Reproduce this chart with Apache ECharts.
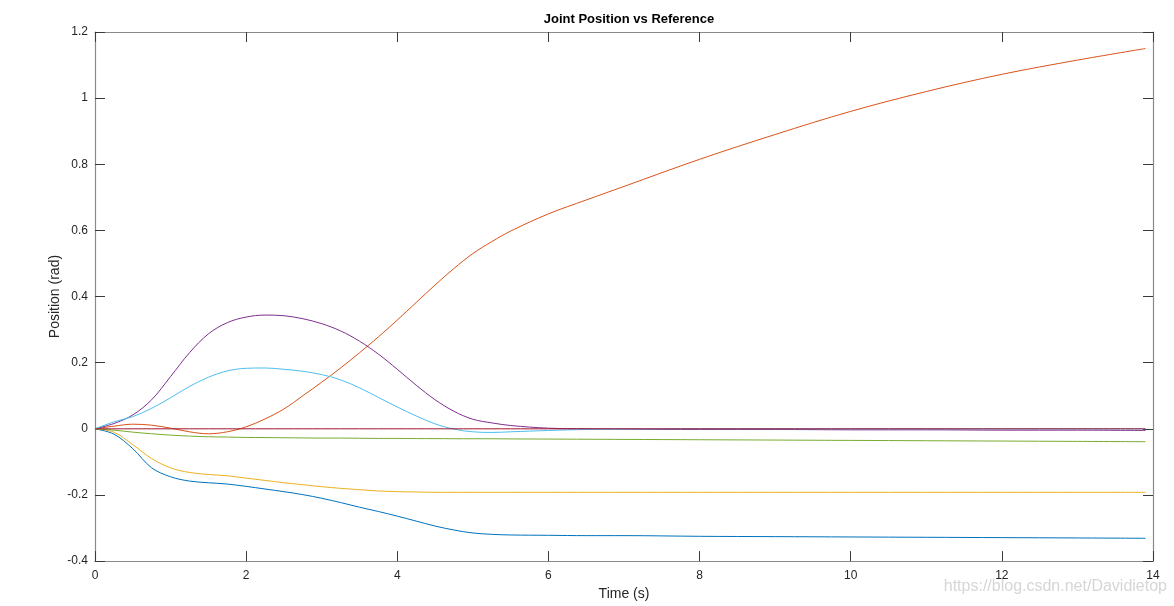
<!DOCTYPE html>
<html>
<head>
<meta charset="utf-8">
<script src="https://cdn.jsdelivr.net/npm/echarts@6/dist/echarts.min.js"></script>
<style>
html,body{margin:0;padding:0;background:#fff;}
#chart{width:1174px;height:606px;}
</style>
</head>
<body>
<div id="chart"></div>
<script>
// ---- data ----
const time = [0, 0.25, 0.5, 0.75, 1, 1.25, 1.5, 1.75, 2, 2.25, 2.5, 2.75, 3, 3.25, 3.5, 3.75, 4, 4.25, 4.5, 4.75, 5, 5.25, 5.5, 6, 6.5, 7, 8, 9, 10, 11, 12, 13, 13.9];

const joint1 = [0, -0.016, -0.06, -0.118, -0.145, -0.158, -0.163, -0.167, -0.174, -0.182, -0.19, -0.199, -0.21, -0.223, -0.237, -0.25, -0.264, -0.279, -0.294, -0.306, -0.315, -0.319, -0.321, -0.322, -0.323, -0.323, -0.325, -0.326, -0.327, -0.328, -0.329, -0.33, -0.331];
const joint2 = [0, 0.008, 0.014, 0.011, 0.002, -0.009, -0.015, -0.009, 0.006, 0.03, 0.06, 0.1, 0.141, 0.184, 0.23, 0.278, 0.329, 0.382, 0.435, 0.485, 0.53, 0.566, 0.598, 0.65, 0.692, 0.733, 0.815, 0.89, 0.96, 1.02, 1.072, 1.115, 1.15];
const joint3 = [0, -0.01, -0.048, -0.09, -0.118, -0.132, -0.138, -0.142, -0.149, -0.156, -0.163, -0.169, -0.175, -0.18, -0.184, -0.188, -0.19, -0.191, -0.192, -0.192, -0.192, -0.192, -0.192, -0.192, -0.192, -0.192, -0.192, -0.192, -0.192, -0.192, -0.192, -0.192, -0.192];
const joint4 = [0, 0.016, 0.042, 0.088, 0.158, 0.23, 0.287, 0.321, 0.338, 0.344, 0.342, 0.333, 0.318, 0.296, 0.265, 0.226, 0.18, 0.132, 0.088, 0.053, 0.029, 0.018, 0.01, 0.002, 0, -0.001, -0.002, -0.002, -0.003, -0.003, -0.004, -0.004, -0.005];
const joint5 = [0, -0.004, -0.01, -0.015, -0.019, -0.022, -0.024, -0.025, -0.026, -0.0265, -0.027, -0.0275, -0.028, -0.028, -0.0285, -0.029, -0.029, -0.0295, -0.0295, -0.03, -0.03, -0.03, -0.0305, -0.031, -0.0315, -0.032, -0.033, -0.034, -0.035, -0.036, -0.037, -0.038, -0.039];
const joint6 = [0, 0.021, 0.037, 0.062, 0.094, 0.128, 0.156, 0.175, 0.183, 0.184, 0.18, 0.174, 0.164, 0.148, 0.124, 0.095, 0.066, 0.039, 0.015, -0.001, -0.009, -0.011, -0.009, -0.005, -0.002, -0.001, 0, 0, 0, 0, 0, 0, 0];
const joint7 = [0, 0, 0, 0, 0, 0, 0, 0, 0, 0, 0, 0, 0, 0, 0, 0, 0, 0, 0, 0, 0, 0, 0, 0, 0, 0, 0, 0, 0, 0, 0, 0, 0];

const seriesValues = [joint1, joint2, joint3, joint4, joint5, joint6, joint7];
const seriesColors = ['#0072BD', '#D95319', '#EDB120', '#7E2F8E', '#77AC30', '#4DBEEE', '#A2142F'];

const xTicks = {min: 0, max: 14, interval: 2};
const yTicks = {min: -0.4, max: 1.2, interval: 0.2};

// ---- chart ----
const FONT = '"Liberation Sans", Arial, Helvetica, sans-serif';
const chart = echarts.init(document.getElementById('chart'), null, {renderer: 'canvas'});

const boxLine = {show: true, onZero: false, lineStyle: {color: '#8a8a8a', width: 1.2}};
const inTick = {show: true, inside: true, length: 10, lineStyle: {color: '#3a3a3a', width: 1}};
const fmt = v => String(parseFloat(v.toFixed(2)));

const option = {
  animation: false,
  backgroundColor: '#ffffff',
  title: {
    text: 'Joint Position vs Reference',
    left: 624, top: 8, textAlign: 'center',
    textStyle: {fontFamily: FONT, fontSize: 13, fontWeight: 'bold', color: '#000'}
  },
  grid: {left: 95, right: 21, top: 32, bottom: 44, containLabel: false},
  xAxis: [
    {
      type: 'value', position: 'bottom', min: xTicks.min, max: xTicks.max, interval: xTicks.interval,
      axisLine: boxLine, axisTick: inTick, splitLine: {show: false},
      axisLabel: {fontFamily: FONT, fontSize: 12, color: '#262626', margin: 9, formatter: fmt},
      name: 'Time (s)', nameLocation: 'middle', nameGap: 25,
      nameTextStyle: {fontFamily: FONT, fontSize: 14, color: '#262626'}
    },
    {
      type: 'value', position: 'top', min: xTicks.min, max: xTicks.max, interval: xTicks.interval,
      axisLine: boxLine, axisTick: inTick, splitLine: {show: false}, axisLabel: {show: false}
    }
  ],
  yAxis: [
    {
      type: 'value', position: 'left', min: yTicks.min, max: yTicks.max, interval: yTicks.interval,
      axisLine: boxLine, axisTick: inTick, splitLine: {show: false},
      axisLabel: {fontFamily: FONT, fontSize: 12, color: '#262626', margin: 7, formatter: fmt},
      name: 'Position (rad)', nameLocation: 'middle', nameGap: 33, nameRotate: 90, nameMoveOverlap: false,
      nameTextStyle: {fontFamily: FONT, fontSize: 14, color: '#262626'}
    },
    {
      type: 'value', position: 'right', min: yTicks.min, max: yTicks.max, interval: yTicks.interval,
      axisLine: boxLine, axisTick: inTick, splitLine: {show: false}, axisLabel: {show: false}
    }
  ],
  graphic: [{
    type: 'text', right: 7, top: 579,
    style: {text: 'https://blog.csdn.net/Davidietop', font: '16px ' + FONT, fill: '#d6d6d6'}
  }],
  series: seriesValues.map((vals, i) => ({
    type: 'line',
    xAxisIndex: 0, yAxisIndex: 0,
    data: time.map((t, k) => [t, vals[k]]),
    showSymbol: false, symbol: 'none',
    smooth: 0.35,
    lineStyle: {color: seriesColors[i], width: 1},
    itemStyle: {color: seriesColors[i]},
    z: 2 + i
  }))
};
chart.setOption(option);
</script>
</body>
</html>
